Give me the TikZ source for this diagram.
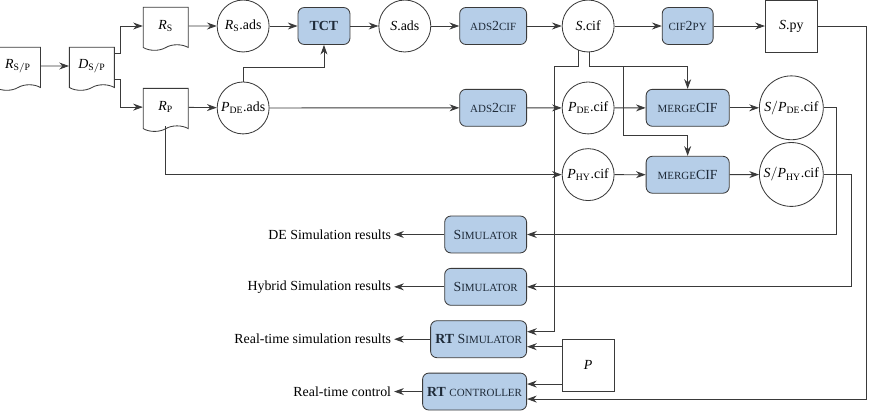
\documentclass[tikz,border=0pt]{standalone}
\usepackage{fontspec}
\setmainfont{Liberation Serif}
\usepackage{xcolor}
\usepackage{tikz}
\usetikzlibrary{positioning, arrows.meta, shapes.symbols, calc}
\definecolor{tool}{HTML}{B6CEE8}
\definecolor{edge}{HTML}{3A3A3A}
\definecolor{ink}{HTML}{1E2A38}
\newcommand\fsc[1]{{\fontsize{7.9pt}{9pt}\selectfont\MakeUppercase{#1}}}
\newcommand\fv[2]{$\mathit{#1}_{\mathrm{#2}}$}
\tikzset{
  proc/.style={draw=edge, semithick, rounded corners=4.5pt, fill=tool, text=ink, align=center,
               minimum height=26.6pt, inner xsep=1pt},
  doc/.style={tape, tape bend top=none, tape bend height=4pt, draw=edge, semithick,
              minimum width=32.4pt, minimum height=31pt, inner sep=0pt},
  datafile/.style={circle, draw=edge, semithick, minimum size=37.4pt, inner sep=0.5pt},
  bigfile/.style={datafile, minimum size=46pt},
  sq/.style={draw=edge, semithick, minimum size=37.4pt},
  lbl/.style={inner sep=2pt},
  ar/.style={-{Stealth[length=7pt, width=5pt]}, semithick, edge},
}
\begin{document}
\begin{tikzpicture}[x=0.72pt, y=-0.72pt, node distance=20.2pt]
  \useasboundingbox (0,0) rectangle (873,410);

  % --- requirements and specs ---
  \node[doc] (rsp) at (18,66) {\fv{R}{S/P}};
  \node[doc, right=of rsp] (dsp) {\fv{D}{S/P}};
  \node[doc, right=of dsp, yshift=28.8pt] (rs) {\fv{R}{S}};
  \node[doc, right=of dsp, yshift=-29.6pt] (rp) {\fv{R}{P}};

  % --- supervisor chain (top) ---
  \node[datafile, right=of rs] (rsads) {\fv{R}{S}.ads};
  \node[proc, minimum width=37.4pt, right=of rsads] (tct) {\textbf{TCT}};
  \node[datafile, right=of tct] (sads) {$\mathit{S}$.ads};
  \node[proc, minimum width=48.2pt, right=of sads] (adsa) {\fsc{ads}2\fsc{cif}};
  \node[datafile, right=25pt of adsa] (scif) {$\mathit{S}$.cif};
  \node[proc, minimum width=36.7pt, right=34pt of scif] (cifpy) {\fsc{cif}2\fsc{py}};
  \node[sq, right=37pt of cifpy] (spy) {$\mathit{S}$.py};

  % --- plant models ---
  \node[datafile, below=21pt of rsads] (pdeads) {\fv{P}{DE}.ads};
  \node[proc, minimum width=48.2pt, below=31.7pt of adsa] (adsb) {\fsc{ads}2\fsc{cif}};
  \node[datafile, below=21pt of scif] (pdecif) {\fv{P}{DE}.cif};
  \node[proc, minimum width=59.8pt, below=31.7pt of cifpy] (mrga) {\fsc{merge}CIF};
  \node[bigfile, below=16.6pt of spy] (spde) {$\mathit{S}/$\fv{P}{DE}.cif};
  \node[datafile, below=10pt of pdecif] (phycif) {\fv{P}{HY}.cif};
  \node[proc, minimum width=59.8pt, below=21pt of mrga] (mrgb) {\fsc{merge}CIF};
  \node[bigfile, below=1.4pt of spde] (sphy) {$\mathit{S}/$\fv{P}{HY}.cif};

  % --- simulators ---
  \node[proc, minimum width=59pt, below=64pt of adsb.south east, anchor=north east] (sima) {S\fsc{imulator}};
  \node[proc, minimum width=59pt, below=10.5pt of sima.south east, anchor=north east] (simb) {S\fsc{imulator}};
  \node[proc, minimum width=69.1pt, below=10.5pt of simb.south east, anchor=north east] (rtsim) {\textbf{RT} S\fsc{imulator}};
  \node[proc, minimum width=74.9pt, below=10.5pt of rtsim.south east, anchor=north east] (rtctl) {\textbf{RT} \fsc{controller}};
  \coordinate (pm) at ($(rtsim)!0.5!(rtctl)$);
  \node[sq] (p) at (pdecif |- pm) {$\mathit{P}$};

  % --- outputs ---
  \node[lbl, left=of rtctl] (ctlres) {Real-time control};
  \node[lbl, anchor=east] (rtres) at (ctlres.east |- rtsim) {Real-time simulation results};
  \node[lbl, anchor=east] (hyres) at (ctlres.east |- simb) {Hybrid Simulation results};
  \node[lbl, anchor=east] (deres) at (ctlres.east |- sima) {DE Simulation results};

  % --- helper points ---
  \coordinate (sj) at ([yshift=-28.8pt]scif.center);
  \coordinate (ja) at ([xshift=-5pt]pdecif.west);
  \coordinate (jb) at ([xshift=6.5pt]pdecif.east);
  \coordinate (kb) at ([yshift=-6pt]mrga.south);
  \coordinate (rsa) at ([yshift=5.4pt]rtsim.east);
  \coordinate (rsb) at ([yshift=-5.4pt]rtsim.east);
  \coordinate (rca) at ([yshift=5.4pt]rtctl.east);
  \coordinate (rcb) at ([yshift=-5.4pt]rtctl.east);

  % --- arrows ---
  \draw[ar] (rsp) -- (dsp);
  \draw[ar] ([yshift=9.4pt]dsp.east) -- ++(4.3pt,0pt) |- (rs.west);
  \draw[ar] ([yshift=-9.4pt]dsp.east) -- ++(4.3pt,0pt) |- (rp.west);
  \draw[ar] (rs) -- (rsads);
  \draw[ar] (rsads) -- (tct);
  \draw[ar] (tct) -- (sads);
  \draw[ar] (sads) -- (adsa);
  \draw[ar] (adsa) -- (scif);
  \draw[ar] (scif) -- (cifpy);
  \draw[ar] (cifpy) -- (spy);
  \draw[ar] (rp) -- (pdeads);
  \draw[ar] (pdeads.north) -- ++(0pt,10pt) -| (tct.south);
  \draw[ar] (pdeads) -- (adsb);
  \draw[ar] (adsb) -- (pdecif);
  \draw[ar] (pdecif) -- (mrga);
  \draw[ar] (mrga) -- (spde);
  \draw[ar] (rp.south) |- (phycif.west);
  \draw[ar] (phycif) -- (mrgb);
  \draw[ar] (mrgb) -- (sphy);
  \draw[ar] (scif.-112) |- (ja |- sj) |- (rsa);
  \draw[ar] (scif.-87) |- (sj -| mrga.north) -- (mrga.north);
  \draw[ar] (jb |- sj) |- (kb) -- (mrgb.north);
  \draw[ar] (spde.east) -- ++(9.4pt,0pt) |- (sima.east);
  \draw[ar] (sphy.east) -- ++(20pt,0pt) |- (simb.east);
  \draw[ar] (spy.east) -- ++(35pt,0pt) |- (rcb);
  \draw[ar] (p.west |- rsb) -- (rsb);
  \draw[ar] (p.west |- rca) -- (rca);
  \draw[ar] (sima) -- (deres);
  \draw[ar] (simb) -- (hyres);
  \draw[ar] (rtsim) -- (rtres);
  \draw[ar] (rtctl) -- (ctlres);

\end{tikzpicture}
\end{document}
